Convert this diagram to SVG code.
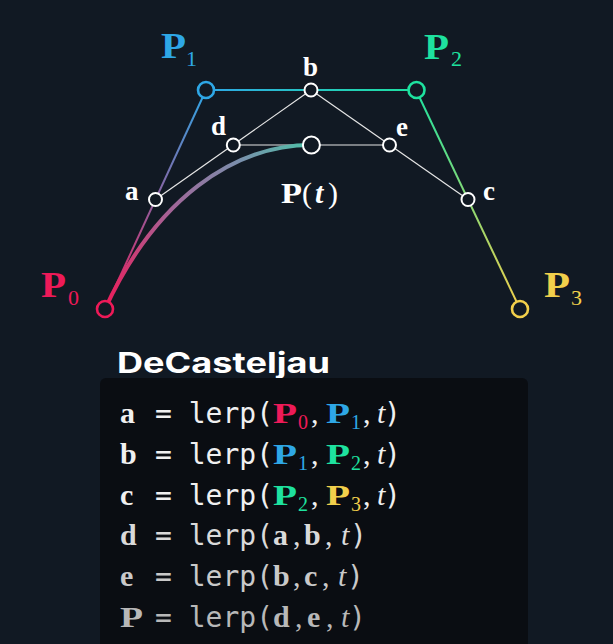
<svg xmlns="http://www.w3.org/2000/svg" width="613" height="644" viewBox="0 0 613 644">
<defs>
<style>
.bg{fill:#111923}
.m{font-family:"Liberation Serif",serif;font-weight:700}
.r{font-family:"Liberation Serif",serif;font-weight:400}
.i{font-family:"Liberation Serif",serif;font-style:italic}
.mono{font-family:"DejaVu Sans Mono",monospace;font-size:28px}
.lbl{font-size:27px;fill:#ffffff}
.big{font-size:35px}
.sub{font-size:22px}
.code{font-size:30px}
.csub{font-size:20px}
.c0{fill:#ee1a58}.c1{fill:#2ea7e6}.c2{fill:#1ee29f}.c3{fill:#f2cf4b}
.ctrl{fill:#111923;stroke-width:2.6}
.pt{fill:#111923;stroke:#ffffff;stroke-width:2}
.thin{stroke:#e6e6e6;stroke-width:1.2;fill:none}
</style>
<linearGradient id="g01" gradientUnits="userSpaceOnUse" x1="105" y1="309" x2="206" y2="90"><stop offset="0" stop-color="#ee1a58"/><stop offset="1" stop-color="#2ea7e6"/></linearGradient>
<linearGradient id="g12" gradientUnits="userSpaceOnUse" x1="206" y1="90" x2="416" y2="90"><stop offset="0" stop-color="#2ea7e6"/><stop offset="1" stop-color="#1ee29f"/></linearGradient>
<linearGradient id="g23" gradientUnits="userSpaceOnUse" x1="416" y1="90" x2="520" y2="309"><stop offset="0" stop-color="#1ee29f"/><stop offset="1" stop-color="#f2cf4b"/></linearGradient>
<linearGradient id="gc" gradientUnits="userSpaceOnUse" x1="105" y1="309" x2="311" y2="145"><stop offset="0" stop-color="#ee1a58"/><stop offset="0.45" stop-color="#a0689a"/><stop offset="0.75" stop-color="#7a8fac"/><stop offset="1" stop-color="#4fc1a8"/></linearGradient>
</defs>
<rect class="bg" x="0" y="0" width="613" height="644"/>

<g id="connectors">
<line x1="105" y1="309" x2="206" y2="90" stroke="url(#g01)" stroke-width="2"/>
<line x1="206" y1="90" x2="416" y2="90" stroke="url(#g12)" stroke-width="2"/>
<line x1="416" y1="90" x2="520" y2="309" stroke="url(#g23)" stroke-width="2"/>
<line class="thin" x1="155.5" y1="199.5" x2="311" y2="90"/>
<line class="thin" x1="311" y1="90" x2="468" y2="199.5"/>
<line class="thin" x1="233.3" y1="145" x2="389.5" y2="145" stroke="#b8b8b8"/>
<path d="M105,309 C155.5,199.5 233.3,145 311.4,145" fill="none" stroke="url(#gc)" stroke-width="4" stroke-linecap="round"/>
</g>

<g id="node-P0">
<circle class="ctrl" cx="105" cy="309" r="8" stroke="#ee1a58"/>
<text class="m big c0" y="297"><tspan x="41" textLength="25" lengthAdjust="spacingAndGlyphs">P</tspan><tspan class="r sub" x="68" y="305">0</tspan></text>
</g>
<g id="node-P1">
<circle class="ctrl" cx="206" cy="90" r="8" stroke="#2ea7e6"/>
<text class="m big c1" y="58"><tspan x="161" textLength="25" lengthAdjust="spacingAndGlyphs">P</tspan><tspan class="r sub" x="186" y="66">1</tspan></text>
</g>
<g id="node-P2">
<circle class="ctrl" cx="416.5" cy="90" r="8" stroke="#1ee29f"/>
<text class="m big c2" y="59"><tspan x="424" textLength="25" lengthAdjust="spacingAndGlyphs">P</tspan><tspan class="r sub" x="451" y="66">2</tspan></text>
</g>
<g id="node-P3">
<circle class="ctrl" cx="520" cy="309" r="8" stroke="#f2cf4b"/>
<text class="m big c3" y="297"><tspan x="544" textLength="26" lengthAdjust="spacingAndGlyphs">P</tspan><tspan class="r sub" x="571" y="305">3</tspan></text>
</g>
<g id="node-a">
<circle class="pt" cx="155.5" cy="199.5" r="6.5"/>
<text class="m lbl" x="125" y="200">a</text>
</g>
<g id="node-b">
<circle class="pt" cx="311" cy="90" r="6.5"/>
<text class="m lbl" x="303" y="76">b</text>
</g>
<g id="node-c">
<circle class="pt" cx="468" cy="199.5" r="6.5"/>
<text class="m lbl" x="483" y="200">c</text>
</g>
<g id="node-d">
<circle class="pt" cx="233.3" cy="145" r="6.5"/>
<text class="m lbl" x="211" y="135">d</text>
</g>
<g id="node-e">
<circle class="pt" cx="389.5" cy="145" r="6.5"/>
<text class="m lbl" x="396" y="136">e</text>
</g>
<g id="node-Pt">
<circle class="pt" cx="311.4" cy="145" r="8.5" stroke-width="2.6"/>
<text class="m code" fill="#ffffff" y="203"><tspan x="281" textLength="21" lengthAdjust="spacingAndGlyphs">P</tspan><tspan class="r" x="302">(</tspan><tspan class="i" x="315">t</tspan><tspan class="r" x="328">)</tspan></text>
</g>

<g id="code-panel">
<text x="117" y="373" font-family="Inter, sans-serif" font-weight="700" font-size="28" fill="#ffffff" textLength="213" lengthAdjust="spacingAndGlyphs">DeCasteljau</text>
<rect x="100" y="378" width="428" height="280" rx="6" fill="#0a0d12"/>

<text class="code" fill="#f0f0f0" y="423"><tspan class="m" x="120">a</tspan><tspan class="mono" x="155">= lerp(</tspan><tspan class="m c0" x="273" textLength="24" lengthAdjust="spacingAndGlyphs">P</tspan><tspan class="r csub c0" x="298" y="429">0</tspan><tspan class="r" x="311" y="423">,</tspan><tspan class="m c1" x="326" textLength="24" lengthAdjust="spacingAndGlyphs">P</tspan><tspan class="r csub c1" x="351" y="429">1</tspan><tspan class="r" x="363" y="423">,</tspan><tspan class="i" x="377">t</tspan><tspan class="mono" x="384">)</tspan></text>

<text class="code" fill="#f0f0f0" y="464"><tspan class="m" x="120">b</tspan><tspan class="mono" x="155">= lerp(</tspan><tspan class="m c1" x="273" textLength="24" lengthAdjust="spacingAndGlyphs">P</tspan><tspan class="r csub c1" x="298" y="470">1</tspan><tspan class="r" x="311" y="464">,</tspan><tspan class="m c2" x="326" textLength="24" lengthAdjust="spacingAndGlyphs">P</tspan><tspan class="r csub c2" x="351" y="470">2</tspan><tspan class="r" x="363" y="464">,</tspan><tspan class="i" x="377">t</tspan><tspan class="mono" x="384">)</tspan></text>

<text class="code" fill="#f0f0f0" y="505"><tspan class="m" x="120">c</tspan><tspan class="mono" x="155">= lerp(</tspan><tspan class="m c2" x="273" textLength="24" lengthAdjust="spacingAndGlyphs">P</tspan><tspan class="r csub c2" x="298" y="511">2</tspan><tspan class="r" x="311" y="505">,</tspan><tspan class="m c3" x="326" textLength="24" lengthAdjust="spacingAndGlyphs">P</tspan><tspan class="r csub c3" x="351" y="511">3</tspan><tspan class="r" x="363" y="505">,</tspan><tspan class="i" x="377">t</tspan><tspan class="mono" x="384">)</tspan></text>

<text class="code" fill="#dadada" y="545"><tspan class="m" x="120">d</tspan><tspan class="mono" x="155">= lerp(</tspan><tspan class="m" x="273">a</tspan><tspan class="r" x="293">,</tspan><tspan class="m" x="304">b</tspan><tspan class="r" x="325">,</tspan><tspan class="i" x="341">t</tspan><tspan class="mono" x="350">)</tspan></text>

<text class="code" fill="#c9c9c9" y="586"><tspan class="m" x="120">e</tspan><tspan class="mono" x="155">= lerp(</tspan><tspan class="m" x="273">b</tspan><tspan class="r" x="293">,</tspan><tspan class="m" x="304">c</tspan><tspan class="r" x="322">,</tspan><tspan class="i" x="338">t</tspan><tspan class="mono" x="347">)</tspan></text>

<text class="code" fill="#b8b8b8" y="627"><tspan class="m" x="120" textLength="23" lengthAdjust="spacingAndGlyphs">P</tspan><tspan class="mono" x="155">= lerp(</tspan><tspan class="m" x="273">d</tspan><tspan class="r" x="295">,</tspan><tspan class="m" x="307">e</tspan><tspan class="r" x="326">,</tspan><tspan class="i" x="341">t</tspan><tspan class="mono" x="349">)</tspan></text>
</g>
</svg>
